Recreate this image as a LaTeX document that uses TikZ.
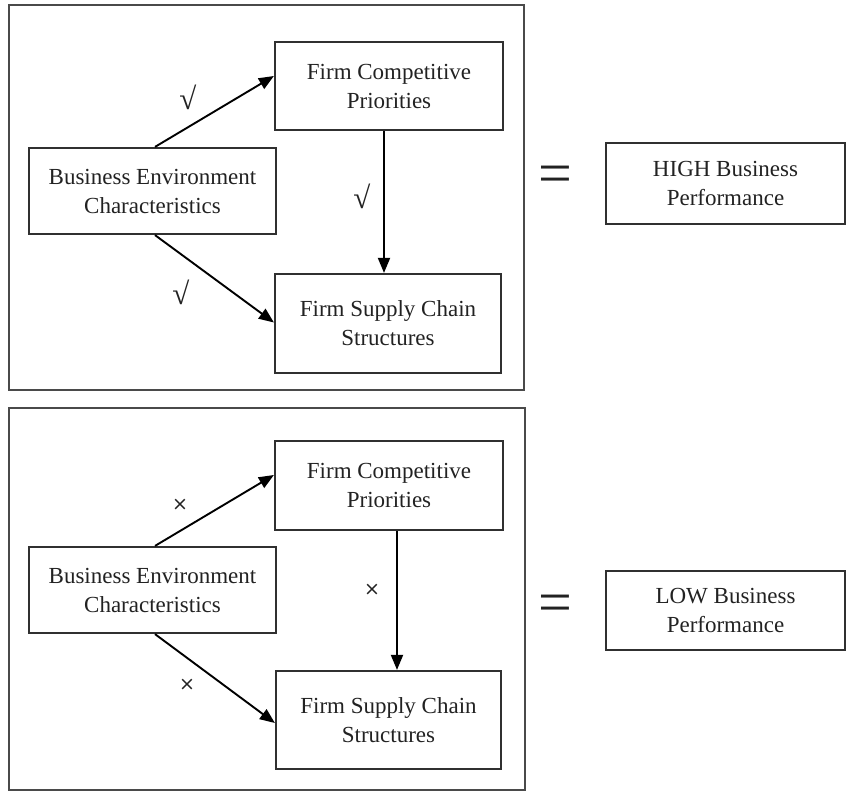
\documentclass[tikz,border=0pt]{standalone}
\usepackage{fontspec}
\setmainfont{Liberation Serif}
\newfontfamily\markfont{DejaVu Sans}
\usetikzlibrary{arrows.meta}

\definecolor{framegray}{HTML}{4A4A4A}
\definecolor{boxgray}{HTML}{303030}
\definecolor{inkgray}{HTML}{222222}

\tikzset{
  panel/.style={draw=framegray, line width=2.2pt},
  factor/.style={draw=boxgray, line width=2.2pt, rectangle, align=center,
    inner sep=0pt, text=inkgray, font=\fontsize{23}{29}\selectfont},
  arr/.style={draw=black, line width=1.9pt,
    -{Triangle[length=15pt,width=12pt]}},
  tick/.style={text=inkgray, font=\fontsize{31}{31}\selectfont, inner sep=0pt},
  cross/.style={text=inkgray, font=\markfont\fontsize{19}{19}\selectfont, inner sep=0pt},
  equal/.style={text=inkgray, font=\fontsize{60}{60}\selectfont, inner sep=0pt}
}

\begin{document}
\begin{tikzpicture}[x=1pt, y=-1pt]
  \useasboundingbox (0,0) rectangle (846,792);

  % ---------- upper panel: aligned configuration ----------
  \draw[panel] (9,5) rectangle (524,390);
  \node[factor, minimum width=228pt, minimum height=88pt] (fcpA) at (389,86)
    {Firm Competitive\\Priorities};
  \node[factor, minimum width=247pt, minimum height=86pt] (beA) at (152.5,191)
    {Business Environment\\Characteristics};
  \node[factor, minimum width=226pt, minimum height=99pt] (fscA) at (388,323.5)
    {Firm Supply Chain\\Structures};
  \node[factor, minimum width=239pt, minimum height=81pt] (high) at (725.5,183.5)
    {HIGH Business\\Performance};
  \node[equal] (eqA) at (555,180) {=};

  \draw[arr] ([xshift=2.5pt]beA.north) -- ([yshift=10pt]fcpA.west);
  \draw[arr] ([xshift=-5pt]fcpA.south) -- ([xshift=-5pt]fcpA.south |- fscA.north);
  \draw[arr] ([xshift=2.5pt]beA.south) -- ([yshift=1pt]fscA.west);

  \node[tick] (tA1) at (188,97) {√};
  \node[tick] (tA2) at (362,196) {√};
  \node[tick] (tA3) at (181,292) {√};

  % ---------- lower panel: misaligned configuration ----------
  \draw[panel] (9,408) rectangle (525,790);
  \node[factor, minimum width=228pt, minimum height=89pt] (fcpB) at (389,485.5)
    {Firm Competitive\\Priorities};
  \node[factor, minimum width=247pt, minimum height=86pt] (beB) at (152.5,590)
    {Business Environment\\Characteristics};
  \node[factor, minimum width=225pt, minimum height=98pt] (fscB) at (388.5,720)
    {Firm Supply Chain\\Structures};
  \node[factor, minimum width=239pt, minimum height=79pt] (low) at (725.5,610.5)
    {LOW Business\\Performance};
  \node[equal] (eqB) at (555,609) {=};

  \draw[arr] ([xshift=2.5pt]beB.north) -- ([yshift=10.5pt]fcpB.west);
  \draw[arr] ([xshift=8pt]fcpB.south) -- ([xshift=8pt]fcpB.south |- fscB.north);
  \draw[arr] ([xshift=2.5pt]beB.south) -- ([yshift=-3pt]fscB.west);

  \node[cross] (xB1) at (180,505) {×};
  \node[cross] (xB2) at (372,590) {×};
  \node[cross] (xB3) at (187,685) {×};
\end{tikzpicture}
\end{document}
